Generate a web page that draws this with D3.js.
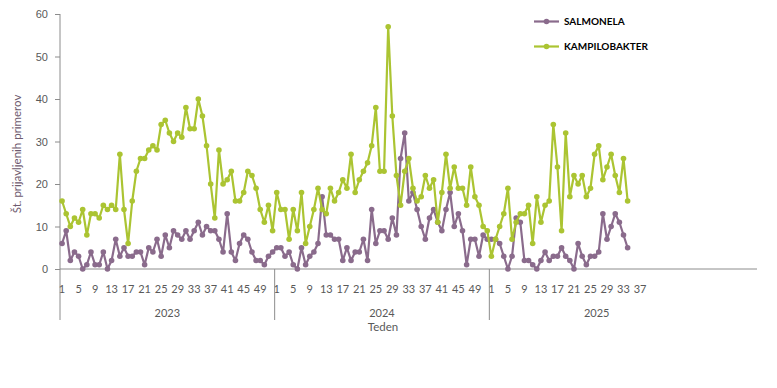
<!DOCTYPE html>
<html>
<head>
<meta charset="utf-8">
<script src="https://cdn.jsdelivr.net/npm/d3@7"></script>
<style>
  body { margin: 0; background: #fff; }
  svg { display: block; font-family: Lato, "Open Sans", sans-serif; }
</style>
</head>
<body>
<div id="chart"></div>
<script>
// weekly counts
var years = ["2023", "2024", "2025"]
var weeksInGroup = [52, 52, 52]
var lastLabelWeek = [49, 49, 37]
var yTicks = [0, 10, 20, 30, 40, 50, 60]

var salmonela2023 = [6,9,2,4,3,0,1,4,1,1, 4,0,2,7,3,5,3,3,4,4, 1,5,4,7,3,8,5,9,8,7, 9,7,9,11,8,10,9,9,7,4, 13,4,2,6,8,7,4,2,2,1, 3,4]
var salmonela2024 = [5,5,3,4,1,0,5,1,3,4, 6,17,8,8,7,7,2,5,2,4, 4,7,2,14,6,9,9,7,12,8, 26,32,16,18,14,10,7,12,14,11, 9,14,18,10,13,9,1,7,7,3, 8,7]
var salmonela2025 = [7,7,6,3,0,3,12,11,2,2, 1,0,2,4,2,3,3,5,3,2, 0,6,3,1,3,3,4,13,7,10, 13,11,8,5]

var kampilo2023 = [16,13,10,12,11,14,8,13,13,12, 15,14,15,14,27,14,6,16,23,26, 26,28,29,28,34,35,32,30,32,31, 38,33,33,40,36,29,20,12,28,20, 21,23,16,16,18,23,22,19,14,11, 15,9]
var kampilo2024 = [18,14,14,7,14,9,18,6,10,14, 19,14,13,19,16,18,21,19,27,18, 21,23,25,29,38,23,23,57,36,22, 15,23,26,19,16,17,22,19,21,11, 18,27,19,24,19,19,15,24,17,15, 10,9]
var kampilo2025 = [3,7,10,13,19,7,11,13,13,15, 6,17,11,15,16,34,24,9,32,17, 22,20,22,17,19,27,29,21,24,27, 22,18,26,16]

var series = [
   { name: "SALMONELA", color: "#8a6b8c", values: [salmonela2023, salmonela2024, salmonela2025] },
   { name: "KAMPILOBAKTER", color: "#abc432", values: [kampilo2023, kampilo2024, kampilo2025] }
]

var width = 777, height = 388
var plotLeft = 60, plotRight = 704, plotTop = 14, plotBottom = 269

// flat list of categories: one per week of each year
var categories = []
years.forEach(function(yr, gi) {
   for (var w = 1; w <= weeksInGroup[gi]; w++) {
      categories.push({ key: yr + "-" + w, year: yr, group: gi, week: w })
   }
})

var x = d3.scaleBand().domain(categories.map(function(c) { return c.key })).range([plotLeft, plotRight])
var y = d3.scaleLinear().domain([0, 60]).range([plotBottom, plotTop])

var svg = d3.select("#chart").append("svg")
   .attr("width", width)
   .attr("height", height)

var axisColor = "#8c8c8c"
var textColor = "#595959"

// y axis
var yAxis = svg.append("g")
   .attr("transform", "translate(" + plotLeft + ",0)")
   .call(d3.axisLeft(y).tickValues(yTicks).tickSize(5).tickPadding(7))
yAxis.select(".domain").remove()
yAxis.selectAll("line").attr("stroke", axisColor)
yAxis.selectAll("text").attr("fill", textColor).style("font-size", "11px")

svg.append("line")
   .attr("x1", plotLeft).attr("x2", plotLeft)
   .attr("y1", plotTop).attr("y2", 320)
   .attr("stroke", axisColor)

// x axis line
svg.append("line")
   .attr("x1", plotLeft).attr("x2", 757)
   .attr("y1", plotBottom).attr("y2", plotBottom)
   .attr("stroke", axisColor)

// week labels
var weekLabels = categories.filter(function(c) {
   return (c.week - 1) % 4 == 0 && c.week <= lastLabelWeek[c.group]
})
svg.selectAll("text.week").data(weekLabels).enter().append("text")
   .attr("class", "week")
   .attr("x", function(d) { return x(d.key) + x.bandwidth() / 2 })
   .attr("y", 293)
   .attr("text-anchor", "middle")
   .attr("fill", textColor)
   .style("font-size", "11px")
   .text(function(d) { return d.week })

// year groups
var groups = years.map(function(yr, gi) {
   var keys = categories.filter(function(c) { return c.group == gi })
   return { year: yr, x0: x(keys[0].key), x1: x(keys[keys.length - 1].key) + x.bandwidth() }
})
svg.selectAll("line.divider").data(groups.slice(1)).enter().append("line")
   .attr("class", "divider")
   .attr("x1", function(d) { return d.x0 }).attr("x2", function(d) { return d.x0 })
   .attr("y1", plotBottom).attr("y2", 320)
   .attr("stroke", axisColor)
svg.selectAll("text.year").data(groups).enter().append("text")
   .attr("class", "year")
   .attr("x", function(d) { return (d.x0 + d.x1) / 2 })
   .attr("y", 317)
   .attr("text-anchor", "middle")
   .attr("fill", textColor)
   .style("font-size", "11px")
   .text(function(d) { return d.year })

svg.append("text")
   .attr("x", 383).attr("y", 331)
   .attr("text-anchor", "middle")
   .attr("fill", textColor)
   .style("font-size", "11.5px")
   .text("Teden")

svg.append("text")
   .attr("transform", "translate(21,154) rotate(-90)")
   .attr("text-anchor", "middle")
   .attr("fill", "#6e5a6e")
   .style("font-size", "11.5px")
   .text("Št. prijavljenih primerov")

// lines and markers
var line = d3.line()
   .x(function(d) { return x(d.key) + x.bandwidth() / 2 })
   .y(function(d) { return y(d.v) })

series.forEach(function(s) {
   var pts = []
   s.values.forEach(function(vals, gi) {
      vals.forEach(function(v, i) {
         pts.push({ key: years[gi] + "-" + (i + 1), v: v })
      })
   })
   s.points = pts
})

series.forEach(function(s) {
   var g = svg.append("g")
   g.append("path")
      .datum(s.points)
      .attr("d", line)
      .attr("fill", "none")
      .attr("stroke", s.color)
      .attr("stroke-width", 2.2)
      .attr("stroke-linejoin", "round")
   g.selectAll("circle").data(s.points).enter().append("circle")
      .attr("cx", function(d) { return x(d.key) + x.bandwidth() / 2 })
      .attr("cy", function(d) { return y(d.v) })
      .attr("r", 2.8)
      .attr("fill", s.color)
})

// legend
var legend = svg.selectAll("g.legend").data(series).enter().append("g")
   .attr("class", "legend")
   .attr("transform", function(d, i) { return "translate(534," + (21.5 + i * 25) + ")" })
legend.append("line")
   .attr("x1", 0).attr("x2", 25)
   .attr("stroke", function(d) { return d.color })
   .attr("stroke-width", 2.2)
legend.append("circle")
   .attr("cx", 12.5).attr("r", 2.8)
   .attr("fill", function(d) { return d.color })
legend.append("text")
   .attr("x", 30).attr("y", 3.6)
   .attr("fill", "#000")
   .style("font-size", "10px")
   .style("font-weight", "bold")
   .text(function(d) { return d.name })
</script>
</body>
</html>
